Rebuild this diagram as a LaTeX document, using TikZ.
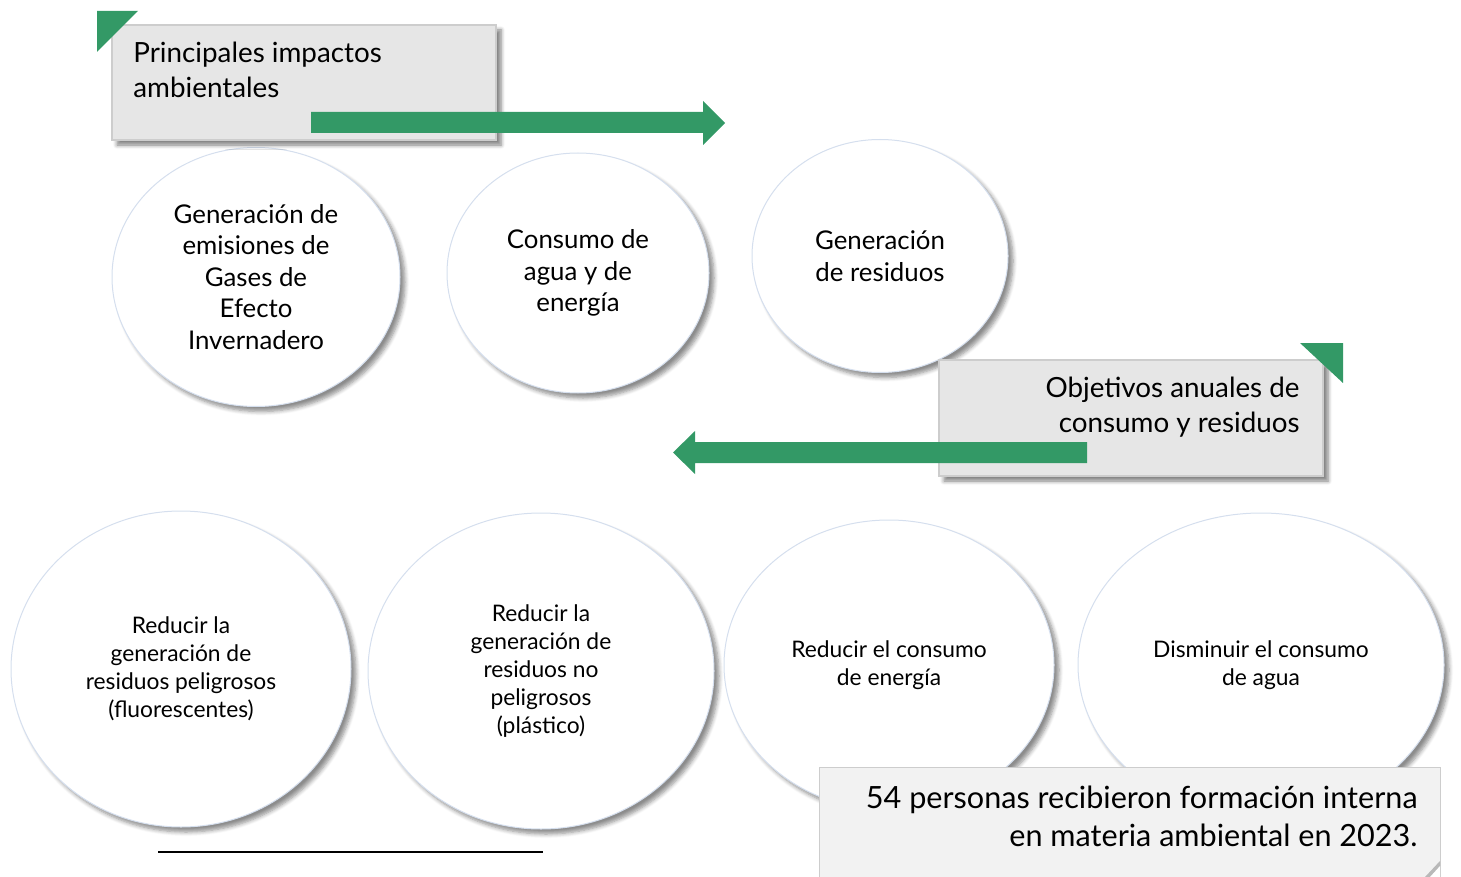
\documentclass[tikz,border=0pt]{standalone}
\usepackage{fontspec}
\setmainfont{Lato}
\usetikzlibrary{shapes.geometric,shadows.blur}
\definecolor{grn}{HTML}{339966}
\definecolor{boxfill}{HTML}{E6E6E6}
\definecolor{boxline}{HTML}{CDCDCD}
\definecolor{bubline}{HTML}{D5DFEE}
\definecolor{notefill}{HTML}{F2F2F2}
\begin{document}
\begin{tikzpicture}[x=0.5pt,y=-0.5pt]
\useasboundingbox (0,0) rectangle (1461,877);
\tikzset{
  bub/.style={ellipse, draw=bubline, line width=0.5pt, fill=white, align=center, inner sep=0pt,
    blur shadow={shadow xshift=2.5pt, shadow yshift=-2.5pt, shadow blur steps=6, shadow opacity=45}},
  gbox/.style={rectangle, draw=boxline, line width=0.8pt, fill=boxfill, inner sep=0pt,
    blur shadow={shadow xshift=2.5pt, shadow yshift=-2.5pt, shadow blur steps=5, shadow opacity=50}},
  note/.style={rectangle, draw=boxline, line width=0.5pt, fill=notefill, inner sep=0pt},
  bigtxt/.style={font=\fontsize{13.9}{17.5}\selectfont, inner sep=0pt},
  toptxt/.style={font=\fontsize{12.9}{15.75}\selectfont},
  bottxt/.style={font=\fontsize{11.4}{14}\selectfont},
  notetxt/.style={font=\fontsize{15.3}{19}\selectfont, inner sep=0pt}
}
% top ellipses
\node[bub, toptxt, minimum width=144pt, minimum height=129.5pt] (e1) at (256,277)
  {Generación de\\emisiones de\\Gases de\\Efecto\\Invernadero};
\node[bub, toptxt, minimum width=131pt, minimum height=120pt] (e2) at (578,273)
  {Consumo de\\agua y de\\energía};
\node[bub, toptxt, minimum width=128pt, minimum height=116.5pt] (e3) at (880,256)
  {Generación\\de residuos};
% box 1
\node[gbox, minimum width=192pt, minimum height=57.5pt] (b1) at (304,82.5) {};
\fill[grn] (97,11) -- (138,11) -- (97,52) -- cycle;
\node[bigtxt, anchor=north west, align=left] (t1) at (133,42) {Principales impactos\\ambientales};
\fill[grn] (311,112) -- (703,112) -- (703,101) -- (725,123) -- (703,145) -- (703,133) -- (311,133) -- cycle;
% box 2
\node[gbox, minimum width=192pt, minimum height=58pt] (b2) at (1131,418) {};
\fill[grn] (1300,343) -- (1343,343) -- (1343,383) -- cycle;
\node[bigtxt, anchor=north east, align=right] (t2) at (1300,377) {Objetivos anuales de\\consumo y residuos};
\fill[grn] (1087,442) -- (695,442) -- (695,431) -- (673,452.5) -- (695,474) -- (695,463) -- (1087,463) -- cycle;
% bottom ellipses
\node[bub, bottxt, minimum width=170pt, minimum height=158pt] (e4) at (181,669)
  {Reducir la\\generación de\\residuos peligrosos\\(fluorescentes)};
\node[bub, bottxt, minimum width=173pt, minimum height=158pt] (e5) at (541,671)
  {Reducir la\\generación de\\residuos no\\peligrosos\\(plástico)};
\node[bub, bottxt, minimum width=165pt, minimum height=145pt] (e6) at (889,665)
  {Reducir el consumo\\de energía};
\node[bub, bottxt, minimum width=183pt, minimum height=152pt] (e7) at (1261,665)
  {Disminuir el consumo\\de agua};
% note box
\node[note, minimum width=310.5pt, minimum height=60pt] (n1) at (1129.5,827) {};
\fill[gray!55] (1440,861) -- (1425,877) -- (1440,877) -- cycle;
\fill[white] (1440,866) -- (1440,877) -- (1430,877) -- cycle;
\node[notetxt, anchor=north east, align=right] (t3) at (1418,786)
  {54 personas recibieron formación interna\\en materia ambiental en 2023.};
% rule
\coordinate (r1) at (158,852);
\coordinate (r2) at (543,852);
\draw[line width=1pt] (r1) -- (r2);
\end{tikzpicture}
\end{document}
